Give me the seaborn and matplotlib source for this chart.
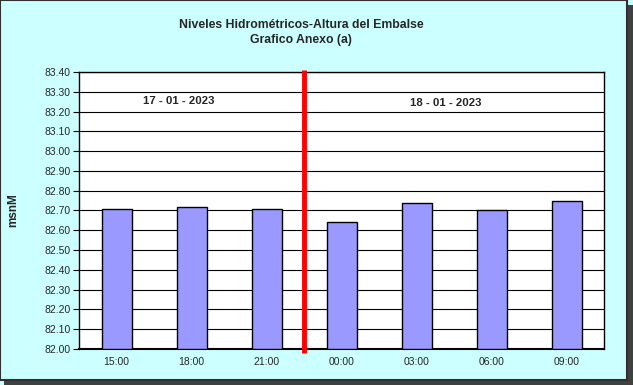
import matplotlib
matplotlib.use("Agg")
import matplotlib.pyplot as plt
import matplotlib.patches as mpatches
import seaborn as sns
import pandas as pd
import numpy as np

horas = ["15:00", "18:00", "21:00", "00:00", "03:00", "06:00", "09:00"]
niveles = [82.71, 82.72, 82.71, 82.64, 82.74, 82.70, 82.75]
fechas = ["17 - 01 - 2023", "18 - 01 - 2023"]
y_ticks = [82.00, 82.10, 82.20, 82.30, 82.40, 82.50, 82.60, 82.70,
           82.80, 82.90, 83.00, 83.10, 83.20, 83.30, 83.40]

sns.set_theme(style="white")
plt.rcParams["font.family"] = ["Liberation Sans", "DejaVu Sans"]

df = pd.DataFrame({"hora": horas, "nivel": niveles})
base = 82.0

fig = plt.figure(figsize=(6.33, 3.85), dpi=100)
fig.patch.set_facecolor("#CCFFFF")
# outer border with shadow
fig.patches.append(mpatches.Rectangle((0.006, 0.0), 0.994, 0.987, transform=fig.transFigure,
                                      facecolor="#404040", edgecolor="none", zorder=-2))
fig.patches.append(mpatches.Rectangle((0.0, 0.013), 0.991, 0.987, transform=fig.transFigure,
                                      facecolor="#CCFFFF", edgecolor="#303030", lw=1.5, zorder=-1))

ax = fig.add_axes([79/633, 1-349/385, (604-79)/633, (349-72)/385])
ax.set_facecolor("white")

df["alto"] = df["nivel"] - base
sns.barplot(data=df, x="hora", y="alto", order=horas, color="#9999FF",
            edgecolor="black", linewidth=1.0, width=0.4, saturation=1, ax=ax,
            bottom=base, zorder=3)

ax.set_ylim(82.0, 83.4)
ax.set_xlim(-0.5, len(horas) - 0.5)
ax.set_yticks(y_ticks)
ax.set_yticklabels([f"{v:.2f}" for v in y_ticks], fontsize=7.5)
ax.set_xticks(range(len(horas)))
ax.set_xticklabels(horas, fontsize=7.5)
ax.set_xticks(np.arange(-0.5, len(horas), 1), minor=True)
ax.tick_params(axis="x", which="major", length=0, pad=6)
ax.tick_params(axis="x", which="minor", length=4, width=0.8, color="black", direction="out")
ax.tick_params(axis="y", length=4, width=0.8, color="black", direction="out", pad=2, left=True)
ax.yaxis.grid(True, color="black", linewidth=0.8, zorder=0)
ax.set_axisbelow(True)
for s in ax.spines.values():
    s.set_color("black")
    s.set_linewidth(1.0)
ax.spines["bottom"].set_linewidth(1.5)

ax.set_xlabel("")
ax.set_ylabel("msnM", fontsize=8.5, fontweight="bold", labelpad=18)

# red separator between days
ax.plot([2.5, 2.5], [81.98, 83.41], color="#FF0000", lw=3.5, zorder=5, clip_on=False,
        solid_capstyle="butt")

ax.text(0.83, 83.255, fechas[0], ha="center", va="center", fontsize=8.2, fontweight="bold", zorder=6)
ax.text(4.39, 83.245, fechas[1], ha="center", va="center", fontsize=8.2, fontweight="bold", zorder=6)

fig.text(301/633, 1-25/385, "Niveles Hidrométricos-Altura del Embalse", ha="center", va="center",
         fontsize=8.8, fontweight="bold")
fig.text(301/633, 1-40/385, "Grafico Anexo (a)", ha="center", va="center",
         fontsize=8.8, fontweight="bold")

fig.savefig("out.png", dpi=100, facecolor=fig.get_facecolor())
